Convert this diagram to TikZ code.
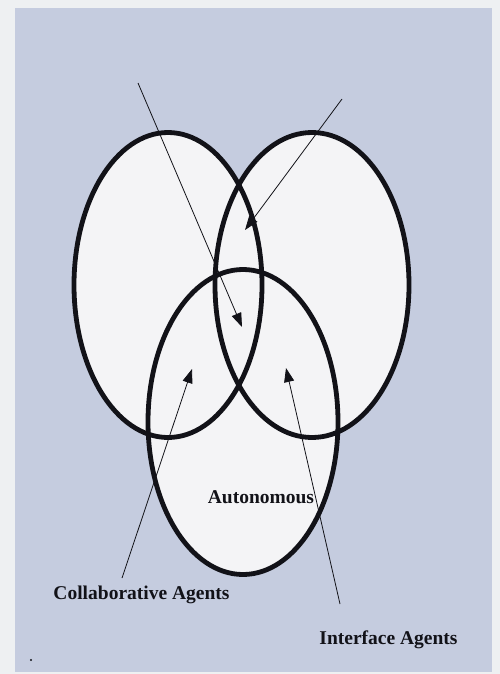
\documentclass[tikz,border=0pt]{standalone}
\usepackage{fontspec}
\setmainfont{Liberation Serif}
\usepackage{tikz}
\usetikzlibrary{arrows.meta,shapes.geometric}
\definecolor{sheet}{RGB}{238,240,242}
\definecolor{panel}{RGB}{197,204,223}
\definecolor{lensfill}{RGB}{244,244,246}
\definecolor{ink}{RGB}{18,18,24}

\begin{document}
\begin{tikzpicture}[x=1pt,y=-1pt,
  lens/.style={ellipse,inner sep=0pt,minimum height=305pt,fill=lensfill},
  rim/.style={draw=ink,line width=4.8pt},
  lbl/.style={inner sep=0pt,text=ink,font=\bfseries\fontsize{19.5}{23}\selectfont},
  pointer/.style={->,draw=ink,line width=0.8pt},
  >={Triangle[length=14pt,width=10pt]}]
\useasboundingbox[fill=sheet] (0,0) rectangle (500,674);
\fill[panel] (15,8) rectangle (492,672);
% the three sets, filled first so that no fill covers a rim
\node[lens,minimum width=188pt](lft) at (168,285){};
\node[lens,minimum width=194pt](rgt) at (312,285){};
\node[lens,minimum width=190pt](bot) at (243,422){};
\draw[rim] (lft.center) ellipse [x radius=94,y radius=152.5];
\draw[rim] (rgt.center) ellipse [x radius=97,y radius=152.5];
\draw[rim] (bot.center) ellipse [x radius=95,y radius=152.5];
% labels
\node[lbl](auto) at (261,497){Autonomous};
\node[lbl](collab) at (141.5,595){Collaborative Agents};
\node[lbl](iface) at (388.5,640){Interface Agents};
% pointer ends
\coordinate (t1) at (138,83);\coordinate (h1) at (242,327);
\coordinate (t2) at (342,99);\coordinate (h2) at (245,230);
\coordinate (t3) at (122,578);\coordinate (h3) at (192,369);
\coordinate (t4) at (340,604);\coordinate (h4) at (286,368);
\draw[pointer](t1)--(h1);\draw[pointer](t2)--(h2);
\draw[pointer](t3)--(h3);\draw[pointer](t4)--(h4);
\fill[ink] (31,660) circle (1.2);
\end{tikzpicture}
\end{document}
